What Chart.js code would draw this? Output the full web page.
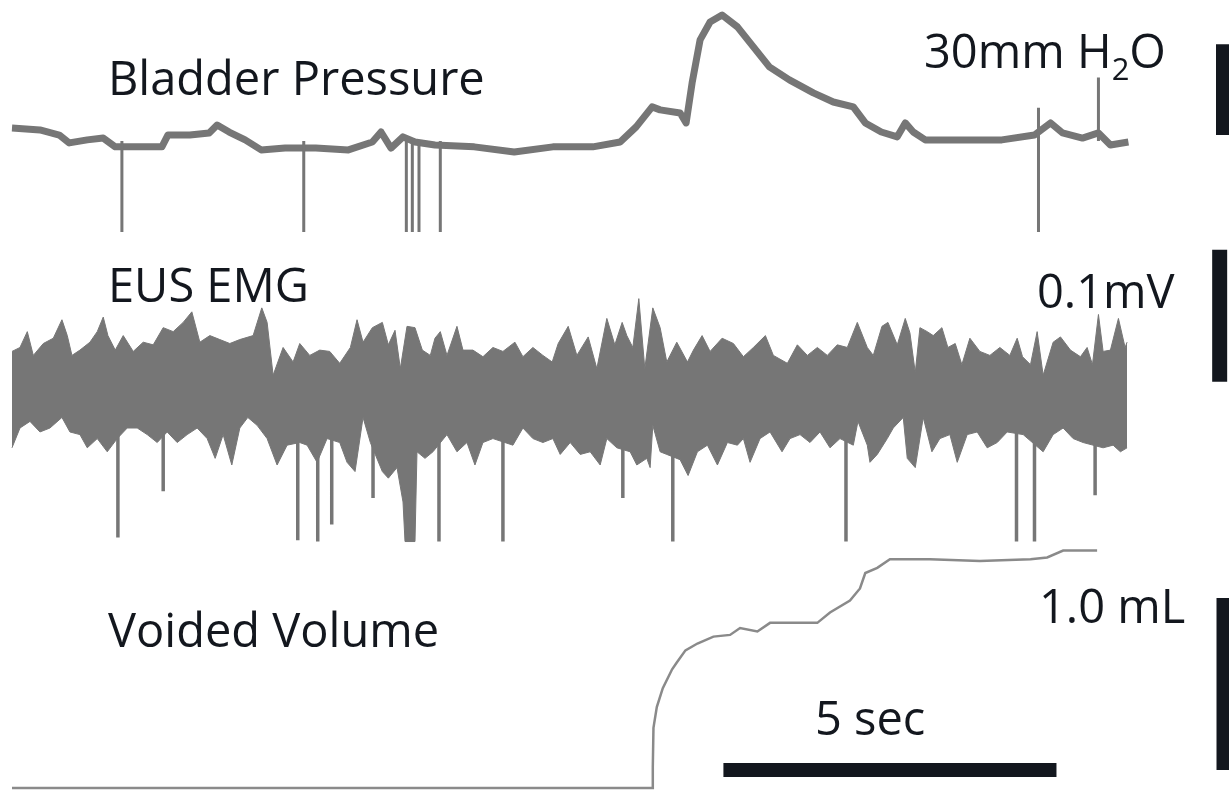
<!DOCTYPE html>
<html>
<head>
<meta charset="utf-8">
<script src="https://cdn.jsdelivr.net/npm/chart.js@4.4.0/dist/chart.umd.min.js"></script>
<style>
  html, body { margin: 0; padding: 0; background: #fff; }
  #wrap { position: relative; width: 1229px; height: 790px; }
</style>
</head>
<body>
<div id="wrap"><canvas id="trace"></canvas></div>
<script>
// time in seconds, pressure in mmH2O, EMG in uV, volume in mL
const pressTime  = [0.00,0.42,0.71,0.86,1.13,1.37,1.55,1.89,2.25,2.34,2.67,2.96,3.08,3.26,3.50,3.74,4.10,4.56,5.05,5.41,5.54,5.69,5.87,6.05,6.35,6.94,7.54,8.12,8.72,9.13,9.37,9.61,9.73,10.03,10.12,10.21,10.33,10.48,10.66,10.89,11.13,11.37,11.67,12.03,12.33,12.63,12.81,13.05,13.29,13.41,13.53,13.71,14.25,14.86,15.35,15.59,15.77,16.07,16.31,16.49,16.76];
const pressValue = [34.3,33.7,32.0,29.4,30.4,31.0,28.1,28.1,28.1,32.0,32.0,32.7,35.3,33.0,30.4,27.1,27.7,27.7,27.1,29.7,33.0,27.7,31.4,29.7,28.7,28.1,26.4,28.1,28.1,29.7,34.7,41.3,40.3,39.3,36.0,49.2,63.4,69.3,71.6,67.7,61.1,54.5,50.2,45.9,42.9,41.3,36.0,33.0,31.4,36.0,33.0,30.4,30.4,30.4,32.0,36.0,32.7,31.0,32.7,28.7,29.7];
const pressSpikeTime = [1.65,4.38,5.92,6.01,6.11,6.43,15.41,15.41,16.31];
const pressSpikeTip  = [0,0,0,0,0,0,0,41,51];

const emgUpTime  = [0.00,0.12,0.23,0.32,0.47,0.62,0.75,0.83,0.90,1.02,1.17,1.28,1.37,1.44,1.55,1.67,1.82,1.97,2.12,2.27,2.42,2.57,2.70,2.82,2.97,3.12,3.27,3.42,3.62,3.75,3.83,3.92,4.07,4.22,4.32,4.47,4.62,4.77,4.92,5.08,5.18,5.27,5.41,5.56,5.65,5.75,5.83,5.93,6.05,6.16,6.28,6.35,6.43,6.53,6.68,6.77,6.92,7.07,7.22,7.37,7.55,7.67,7.82,7.97,8.11,8.20,8.35,8.48,8.65,8.78,8.93,9.05,9.16,9.23,9.32,9.41,9.50,9.62,9.73,9.83,9.98,10.14,10.23,10.36,10.48,10.66,10.83,10.98,11.13,11.31,11.43,11.64,11.79,11.94,12.09,12.24,12.39,12.54,12.69,12.84,12.93,13.06,13.15,13.29,13.41,13.48,13.56,13.63,13.74,13.83,13.96,14.05,14.16,14.26,14.38,14.53,14.68,14.83,14.98,15.09,15.17,15.29,15.39,15.48,15.63,15.74,15.89,16.04,16.14,16.22,16.31,16.38,16.49,16.61,16.71,16.74];
const emgUpValue = [33,36,48,30,39,43,57,45,30,34,40,48,59,45,34,45,33,40,38,51,48,55,63,40,45,42,39,42,45,66,55,15,36,25,39,30,34,33,24,36,57,40,51,55,38,49,20,52,51,34,30,43,48,30,52,34,34,29,36,33,40,29,36,30,25,39,52,30,44,20,58,38,55,45,36,73,20,66,51,25,40,25,34,45,33,43,39,29,36,45,30,24,38,30,36,30,38,36,55,36,30,52,55,38,58,47,17,51,48,45,51,36,39,23,43,33,30,36,30,43,29,23,48,15,40,44,34,29,36,23,61,33,34,58,36,40];
const emgLowTime  = [0.00,0.12,0.27,0.42,0.57,0.75,0.87,1.02,1.13,1.28,1.43,1.58,1.73,1.88,2.03,2.18,2.33,2.48,2.63,2.78,2.93,3.05,3.17,3.30,3.42,3.54,3.68,3.83,3.98,4.13,4.32,4.43,4.58,4.73,4.92,5.03,5.15,5.27,5.38,5.56,5.65,5.78,5.87,5.90,6.05,6.08,6.20,6.32,6.53,6.68,6.83,6.95,7.07,7.22,7.52,7.67,7.82,7.97,8.12,8.23,8.38,8.53,8.68,8.83,8.93,9.08,9.28,9.38,9.53,9.58,9.62,9.73,9.83,10.03,10.15,10.29,10.44,10.59,10.74,10.89,10.98,11.08,11.23,11.38,11.56,11.68,11.83,11.98,12.13,12.28,12.43,12.63,12.70,12.84,12.88,12.99,13.14,13.23,13.38,13.44,13.56,13.68,13.81,13.93,14.08,14.19,14.34,14.49,14.64,14.79,14.94,15.18,15.48,15.63,15.78,15.93,16.08,16.38,16.53,16.64,16.74];
const emgLowValue = [-40,-25,-20,-28,-25,-17,-28,-30,-40,-33,-43,-33,-25,-25,-30,-36,-28,-36,-30,-25,-33,-48,-30,-53,-25,-17,-23,-33,-53,-38,-36,-38,-51,-33,-36,-51,-58,-17,-36,-58,-63,-55,-81,-111,-111,-43,-48,-43,-30,-43,-36,-53,-36,-33,-38,-25,-33,-36,-33,-45,-36,-45,-43,-53,-33,-40,-43,-53,-48,-55,-23,-43,-45,-49,-61,-43,-38,-53,-36,-38,-33,-51,-33,-28,-43,-33,-30,-36,-28,-40,-33,-38,-20,-38,-51,-45,-33,-25,-17,-48,-55,-17,-43,-33,-30,-51,-30,-28,-40,-36,-28,-30,-43,-30,-25,-33,-36,-40,-38,-43,-40];
const emgSpikeTime = [1.59,2.27,4.29,4.59,4.80,5.42,6.41,7.37,9.17,9.92,12.52,15.08,15.35,16.26];
const emgSpikeTip  = [-108,-73,-110,-111,-98,-78,-111,-111,-78,-111,-111,-111,-111,-76];

const volTime  = [0,9.61,9.62,9.63,9.68,9.77,9.91,9.98,10.11,10.29,10.53,10.78,10.93,11.19,11.38,11.79,12.09,12.28,12.58,12.73,12.81,12.99,13.18,13.78,14.53,15.29,15.54,15.78,16.29];
const volValue = [0,0,0.12,0.35,0.47,0.58,0.69,0.73,0.80,0.84,0.88,0.89,0.93,0.91,0.96,0.96,0.96,1.02,1.09,1.16,1.25,1.28,1.33,1.33,1.32,1.33,1.34,1.38,1.38];

// scale bars: 30 mmH2O, 0.1 mV (100 uV), 1.0 mL, 5 s
const barPressure = [32, 62];
const barEmg = [10, 110];
const barVolume = [0.105, 1.105];
const barTime = [10.68, 15.68];
const barTimeLevel = 0.105;
const barX = 18.18;

const View = {
	pts(xs, ys){
		return xs.map((x, i) => ({x: x, y: ys[i]}))
	},
	spikes(ts, tips, base){
		var out = []
		ts.forEach((t, i) => {
			out.push({x: t, y: base}, {x: t, y: tips[i]}, {x: t, y: null})
		})
		return out
	},
	bar(x, range){
		return [{x: x, y: range[0]}, {x: x, y: range[1]}]
	}
};

const grey = '#767676';
const ink = '#13171e';

const labels = {
	id: 'labels',
	afterDraw(chart){
		const ctx = chart.ctx
		ctx.save()
		ctx.fillStyle = ink
		ctx.textBaseline = 'alphabetic'
		ctx.font = '47px "Open Sans"'
		ctx.fillText('Bladder Pressure', 108, 95)
		ctx.fillText('EUS EMG', 108, 302)
		ctx.fillText('Voided Volume', 108, 647)
		ctx.fillText('0.1mV', 1037, 308)
		ctx.fillText('1.0 mL', 1039, 623)
		ctx.fillText('5 sec', 815, 735)
		var x = 924
		ctx.fillText('30mm H', x, 68)
		x += ctx.measureText('30mm H').width
		ctx.font = '31px "Open Sans"'
		ctx.fillText('2', x, 80)
		x += ctx.measureText('2').width
		ctx.font = '47px "Open Sans"'
		ctx.fillText('O', x, 68)
		ctx.restore()
	}
};

const line = (data, axis, color, width, extra) => Object.assign({
	data: data, yAxisID: axis, borderColor: color, backgroundColor: color,
	borderWidth: width, pointRadius: 0, tension: 0, fill: false, spanGaps: false
}, extra || {});

new Chart(document.getElementById('trace'), {
	type: 'line',
	data: {
		datasets: [
			line(View.pts(emgUpTime, emgUpValue), 'yE', grey, 1, {fill: 'origin'}),
			line(View.pts(emgLowTime, emgLowValue), 'yE', grey, 1, {fill: 'origin'}),
			line(View.spikes(emgSpikeTime, emgSpikeTip, 0), 'yE', grey, 3.5, {borderCapStyle: 'butt'}),
			line(View.spikes(pressSpikeTime, pressSpikeTip, 30), 'yP', grey, 3, {borderCapStyle: 'butt'}),
			line(View.pts(pressTime, pressValue), 'yP', grey, 7, {borderJoinStyle: 'round'}),
			line(View.pts(volTime, volValue), 'yV', '#8a8a8a', 2.5),
			line(View.bar(barX, barPressure), 'yP', ink, 14, {borderCapStyle: 'butt'}),
			line(View.bar(barX - 0.05, barEmg), 'yE', ink, 15, {borderCapStyle: 'butt'}),
			line(View.bar(barX, barVolume), 'yV', ink, 13, {borderCapStyle: 'butt'}),
			line([{x: barTime[0], y: barTimeLevel}, {x: barTime[1], y: barTimeLevel}], 'yV', ink, 14, {borderCapStyle: 'butt'})
		]
	},
	options: {
		responsive: true,
		maintainAspectRatio: false,
		animation: false,
		events: [],
		layout: {padding: 0},
		plugins: {legend: {display: false}, tooltip: {enabled: false}},
		scales: {
			x:  {type: 'linear', min: -0.18, max: 18.27, display: false},
			yP: {type: 'linear', min: -184.16, max: 76.57, display: false},
			yE: {type: 'linear', min: -299.2, max: 299.2, display: false},
			yV: {type: 'linear', min: -0.0116, max: 4.581, display: false}
		}
	},
	plugins: [labels]
});
</script>
</body>
</html>
